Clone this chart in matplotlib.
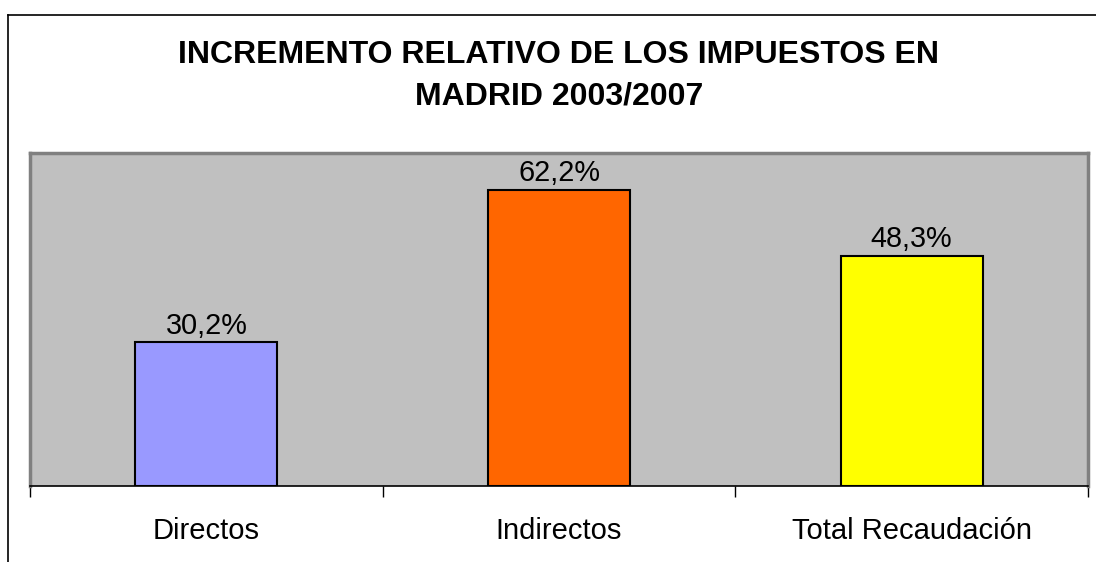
import matplotlib.pyplot as plt
from matplotlib.lines import Line2D

# -----------------------------------------------------------------------------|
categorias = ["Directos", "Indirectos", "Total Recaudación"]
incremento = [30.2, 62.2, 48.3]
etiquetas = ["30,2%", "62,2%", "48,3%"]
colores = ["#9999FF", "#FF6600", "#FFFF00"]
titulo = "INCREMENTO RELATIVO DE LOS IMPUESTOS EN\nMADRID 2003/2007"


def main():
    plt.rcParams["font.family"] = ["Liberation Sans", "DejaVu Sans"]
    fig = plt.figure(figsize=(10.96, 5.62), dpi=100)
    ax = fig.add_axes([30 / 1096, 1 - 486 / 562, 1058 / 1096, 333 / 562])

    # marco exterior del grafico
    fig.add_artist(Line2D([8 / 1096, 8 / 1096], [0, 1 - 15 / 562],
                          transform=fig.transFigure, color="black", lw=1.2))
    fig.add_artist(Line2D([8 / 1096, 1], [1 - 15 / 562, 1 - 15 / 562],
                          transform=fig.transFigure, color="black", lw=1.2))

    x = range(len(categorias))
    bars = ax.bar(x, incremento, width=0.402, color=colores,
                  edgecolor="black", linewidth=1.5, zorder=3)
    for b, txt in zip(bars, etiquetas):
        ax.annotate(txt, (b.get_x() + b.get_width() / 2, b.get_height()),
                    xytext=(0, 2), textcoords="offset points",
                    ha="center", va="bottom", fontsize=20.8)

    ax.set_facecolor("#C0C0C0")
    ax.set_xlim(-0.5, 2.5)
    ax.set_ylim(0, 70)
    ax.set_yticks([])
    ax.set_xticks([-0.5, 0.5, 1.5, 2.5], minor=False)
    ax.set_xticklabels([])
    ax.set_xticks(list(x), minor=True)
    ax.set_xticklabels(categorias, minor=True, fontsize=21)
    ax.tick_params(axis="x", which="major", length=8, width=1, color="black")
    ax.tick_params(axis="x", which="minor", length=0, pad=22)
    for s in ["left", "top", "right"]:
        ax.spines[s].set_color("#808080")
        ax.spines[s].set_linewidth(2.5)
    ax.spines["bottom"].set_color("black")
    ax.spines["bottom"].set_linewidth(1.2)

    fig.text(559 / 1096, 1 - 76 / 562, titulo, ha="center", va="center",
             fontsize=23, fontweight="bold", linespacing=1.5)

    fig.savefig("out.png", dpi=100)
# -----------------------------------------------------------------------------|


if __name__ == '__main__':
    main()
